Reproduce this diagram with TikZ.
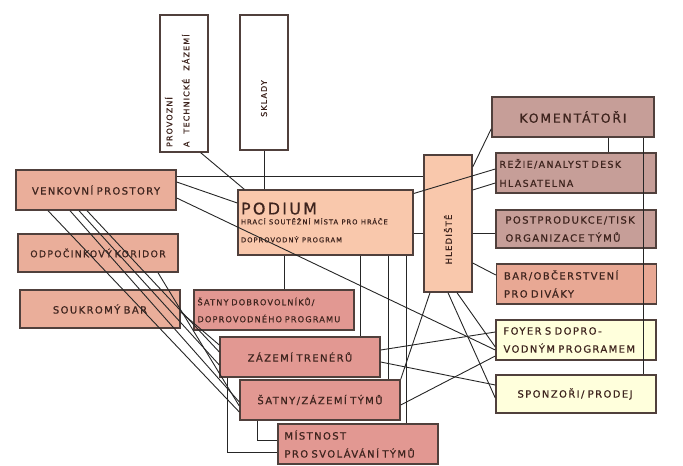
\documentclass[tikz,border=0pt]{standalone}
\usepackage{fontspec}
\setmainfont{DejaVu Sans}[LetterSpace=14, WordSpace=2.2, FakeBold=0.6]
\usepackage{tikz}

\definecolor{peach}{RGB}{249,200,172}
\definecolor{salmon}{RGB}{234,174,154}
\definecolor{rose}{RGB}{226,152,146}
\definecolor{mauve}{RGB}{198,158,152}
\definecolor{barcol}{RGB}{232,168,148}
\definecolor{cream}{RGB}{255,255,220}
\definecolor{edge}{RGB}{80,64,60}
\definecolor{ink}{RGB}{62,36,30}

\begin{document}
\begin{tikzpicture}[x=1pt,y=-1pt]
		\tikzstyle {room} = [draw=edge, line width=1.4pt, text=ink, font=\fontsize{10}{18}\selectfont]
		\tikzstyle {wide} = [room, minimum width=160pt, minimum height=40pt, text width=157pt, inner sep=1.5pt, align=left]
		\tikzstyle {mid} = [wide, align=center]
		\tikzstyle {tall} = [room, minimum width=48pt, fill=white]
		\tikzstyle {link} = [line width=0.9pt, black!85]

		\useasboundingbox (0,0) rectangle (683,466);

		% top stores
		\node[tall, minimum height=137pt] (prov) at (184,83.5) {};
		\node[room, rotate=90, anchor=north west, align=left, draw=none, inner sep=2pt, font=\fontsize{8}{17}\selectfont] (provtxt) at ([xshift=3pt,yshift=3pt]prov.south west) {PROVOZNÍ\\A TECHNICKÉ ZÁZEMÍ};
		\node[tall, minimum height=135pt] (sklady) at (264,82.5) {};
		\node[room, rotate=90, draw=none, font=\fontsize{8}{9}\selectfont] (skladytxt) at ([yshift=-16pt]sklady.center) {SKLADY};

		% left column
		\node[mid, fill=salmon] (venk) at (96,190) {VENKOVNÍ PROSTORY};
		\node[mid, fill=salmon, minimum height=38pt, font=\fontsize{9.3}{18}\selectfont] (odp) at (98,253) {ODPOČINKOVÝ KORIDOR};
		\node[mid, fill=salmon, minimum height=38pt] (souk) at (100,309) {SOUKROMÝ BAR};

		% centre
		\node[room, fill=peach, minimum width=175pt, minimum height=65pt, text width=169pt, inner sep=3pt, align=left] (podium) at (325.5,222.5)
			{{\fontsize{16}{17}\selectfont PODIUM}\\[-2pt]{\fontsize{6.8}{12}\selectfont HRACÍ SOUTĚŽNÍ MÍSTA PRO HRÁČE\\DOPROVODNÝ PROGRAM}};
		\node[room, fill=peach, minimum width=48pt, minimum height=137pt] (hled) at (448,223.5) {};
		\node[room, rotate=90, draw=none, font=\fontsize{8.5}{9}\selectfont] (hledtxt) at ([yshift=-16pt]hled.center) {HLEDIŠTĚ};

		\node[wide, fill=rose, font=\fontsize{8.2}{17}\selectfont] (satnyd) at (274,310) {\hspace*{2pt}ŠATNY DOBROVOLNÍKŮ/\\\hspace*{2pt}DOPROVODNÉHO PROGRAMU};
		\node[mid, fill=rose] (trener) at (300,357) {ZÁZEMÍ TRENÉRŮ};
		\node[mid, fill=rose] (satnyt) at (320,400) {ŠATNY/ZÁZEMÍ TÝMŮ};
		\node[wide, fill=rose] (mistn) at (358,444) {\hspace*{5pt}MÍSTNOST\\\hspace*{5pt}PRO SVOLÁVÁNÍ TÝMŮ};

		% right column
		\node[mid, fill=mauve, minimum width=162pt, text width=159pt, font=\fontsize{12.5}{14}\selectfont] (koment) at (573,117) {KOMENTÁTOŘI};
		\node[wide, fill=mauve, font=\fontsize{9.5}{19}\selectfont] (rezie) at (576,173) {\hspace*{2pt}REŽIE/ANALYST DESK\\\hspace*{2pt}HLASATELNA};
		\node[wide, fill=mauve, minimum height=38pt] (post) at (576,229) {\hspace*{8pt}POSTPRODUKCE/TISK\\\hspace*{8pt}ORGANIZACE TÝMŮ};
		\node[wide, fill=barcol] (bar) at (576.5,284) {\hspace*{6pt}BAR/OBČERSTVENÍ\\\hspace*{6pt}PRO DIVÁKY};
		\node[wide, fill=cream] (foyer) at (576,340) {\hspace*{6pt}FOYER S DOPRO-\\\hspace*{6pt}VODNÝM PROGRAMEM};
		\node[wide, fill=cream, minimum height=38pt] (sponz) at (576,394) {\hspace*{20pt}SPONZOŘI/ PRODEJ};

		% connections
		\draw[link] ([xshift=-8pt]prov.south east) -- ([xshift=7pt]podium.north west);
		\draw[link] (sklady.south) -- (sklady.south |- podium.north);
		\draw[link] ([yshift=14pt]venk.east) -- ([yshift=14pt]venk.east -| hled.west);
		\draw[link] ([yshift=8pt]venk.east) -- ([yshift=19.5pt]podium.west);
		\draw[link] ([yshift=-8pt]venk.east) -- ([yshift=-10pt]foyer.west);
		\draw[link] ([yshift=29pt]podium.east) -- ([yshift=4pt]rezie.west);
		\draw[link] ([yshift=33.5pt]hled.east) -- ([yshift=-10pt]rezie.west);
		\draw[link] ([yshift=56.5pt]hled.east) -- ([yshift=9pt]koment.south west);
		\draw[link] ([yshift=-10.5pt]podium.east) -- ([yshift=-10.5pt]podium.east -| hled.west);
		\draw[link] ([yshift=-9.5pt]hled.east) -- ([yshift=-9.5pt]hled.east -| post.west);
		\draw[link] ([yshift=-39.5pt]hled.east) -- ([yshift=9pt]bar.west);
		\draw[link] ([xshift=35pt]koment.south) -- ([xshift=35pt]koment.south |- rezie.north);
		\draw[link] ([xshift=70pt]koment.south) -- ([xshift=70pt]koment.south |- sponz.north);

		\draw[link] ([xshift=-18pt]hled.south) -- (satnyt.north east);
		\draw[link] (hled.south) -- ([yshift=-4pt]sponz.west);
		\draw[link] ([xshift=9pt]hled.south) -- ([yshift=-7pt]foyer.west);
		\draw[link] ([yshift=7pt]trener.east) -- ([yshift=8pt]foyer.west);
		\draw[link] ([yshift=-5pt]trener.east) -- ([yshift=9pt]sponz.west);
		\draw[link] ([yshift=-5pt]satnyt.east) -- ([yshift=-16pt]foyer.west);

		\draw[link] ([xshift=-41.5pt]podium.south) -- ([xshift=-41.5pt]podium.south |- satnyd.north);
		\draw[link] ([xshift=34.5pt]podium.south) -- ([xshift=34.5pt]podium.south |- trener.north);
		\draw[link] ([xshift=62.5pt]podium.south) -- ([xshift=62.5pt]podium.south |- satnyt.north);
		\draw[link] ([xshift=80.5pt]podium.south) -- ([xshift=80.5pt]podium.south |- mistn.north);
		\draw[link] ([xshift=-73pt]trener.south) |- ([yshift=-8pt]mistn.west);
		\draw[link] ([xshift=-63pt]satnyt.south) |- ([yshift=4pt]mistn.west);

		\draw[link] ([xshift=-48pt]venk.south) -- ([yshift=-12pt]satnyt.west);
		\draw[link] ([xshift=-26pt]venk.south) -- ([yshift=-2pt]satnyt.west);
		\draw[link] ([xshift=-17pt]venk.south) -- ([yshift=-8pt]trener.west);
		\draw[link] ([xshift=-9pt]venk.south) -- ([yshift=5pt]trener.west);
		\draw[link] ([yshift=-3pt]souk.east) -- ([yshift=12pt]trener.west);
		\draw[link] ([xshift=60pt]odp.south) -- ([yshift=-6pt]satnyt.west);
	\end{tikzpicture}
\end{document}
